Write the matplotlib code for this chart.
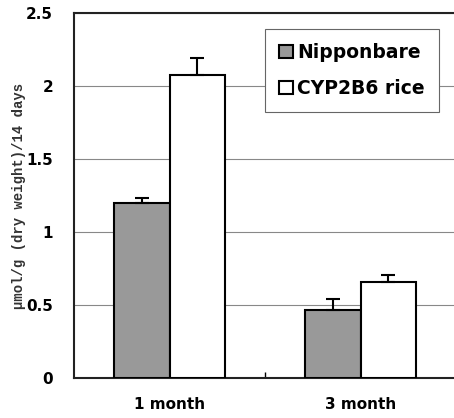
import matplotlib
matplotlib.use("Agg")
import matplotlib.pyplot as plt
import numpy as np

plt.rcParams["font.family"] = ["DejaVu Sans"]

categories = ["1 month", "3 month"]
series_names = ["Nipponbare", "CYP2B6 rice"]
nipponbare = [1.20, 0.466]
cyp2b6 = [2.075, 0.66]
nipponbare_err = [0.035, 0.075]
cyp2b6_err = [0.115, 0.045]
yticks = [0, 0.5, 1, 1.5, 2, 2.5]
ytick_labels = ["0", "0.5", "1", "1.5", "2", "2.5"]

fig = plt.figure(figsize=(4.54, 4.18), dpi=100)
ax = fig.add_axes([74/454, 1-378/418, (456-74)/454, (378-13)/418])

x = np.arange(len(categories))
w = 0.288
err_kw = dict(ecolor="black", elinewidth=1.5, capsize=5, capthick=1.5)
ax.bar(x - w/2, nipponbare, w, color="#999999", edgecolor="black", linewidth=1.5,
       yerr=[np.zeros(2), nipponbare_err], error_kw=err_kw, label=series_names[0], zorder=3)
ax.bar(x + w/2, cyp2b6, w, color="white", edgecolor="black", linewidth=1.5,
       yerr=[np.zeros(2), cyp2b6_err], error_kw=err_kw, label=series_names[1], zorder=3)

ax.set_xlim(-0.5, 1.5)
ax.set_ylim(0, 2.5)
ax.set_yticks(yticks)
ax.set_yticklabels(ytick_labels, fontsize=11, fontweight="bold")
ax.tick_params(axis="y", length=0, pad=15)
ax.set_xticks(x)
ax.set_xticklabels(categories, fontsize=11, fontweight="bold")
ax.tick_params(axis="x", length=0, pad=14)
ax.set_xticks([0.5], minor=True)
ax.tick_params(axis="x", which="minor", direction="in", length=4, width=1)
ax.yaxis.grid(True, color="#888888", linewidth=0.8, zorder=0)
ax.set_axisbelow(True)
for s in ["left", "bottom", "top", "right"]:
    ax.spines[s].set_linewidth(1.5)
    ax.spines[s].set_color("#222222")

ax.set_ylabel("\u00b5mol/g (dry weight)/14 days", fontsize=10, fontweight="bold",
              family=["Liberation Mono", "DejaVu Sans Mono"], color="#333333")
ax.yaxis.set_label_coords(-48/380, 0.5)

leg = ax.legend(loc="upper right", bbox_to_anchor=(439/454, 1-29/418), bbox_transform=fig.transFigure,
                fancybox=False, framealpha=1, edgecolor="#666666",
                handlelength=0.75, handleheight=0.75, handletextpad=0.25, borderpad=0.75,
                labelspacing=0.9, borderaxespad=0, prop={"weight": "bold", "size": 13.5})
leg.get_frame().set_linewidth(0.8)

fig.savefig("out.png", dpi=100)
